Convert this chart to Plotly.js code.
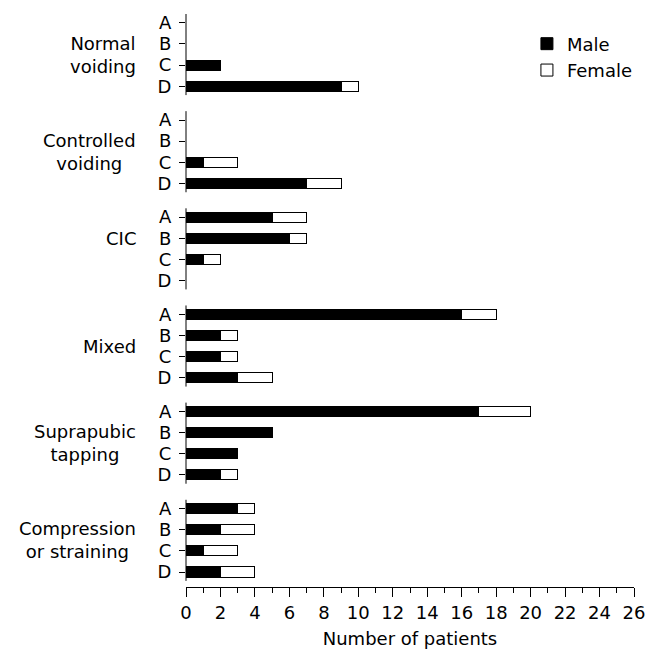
<!DOCTYPE html>
<html>
<head>
<meta charset="utf-8">
<script src="https://cdn.plot.ly/plotly-3.0.1.min.js"></script>
<style>html,body{margin:0;padding:0;background:#fff;}#chart{width:658px;height:652px;}</style>
</head>
<body>
<div id="chart"></div>
<script>
var groups = ["Normal<br>voiding", "Controlled<br>voiding", "CIC", "Mixed", "Suprapubic<br>tapping", "Compression<br>or straining"];
var subgroups = ["A", "B", "C", "D"];
var male = [
  [0, 0, 2, 9],
  [0, 0, 1, 7],
  [5, 6, 1, 0],
  [16, 2, 2, 3],
  [17, 5, 3, 2],
  [3, 2, 1, 2]
];
var female = [
  [0, 0, 0, 1],
  [0, 0, 2, 2],
  [2, 1, 1, 0],
  [2, 1, 1, 2],
  [3, 0, 0, 1],
  [1, 2, 2, 2]
];
var xTicks = [0, 2, 4, 6, 8, 10, 12, 14, 16, 18, 20, 22, 24, 26];

var PITCH = 4.6;
var FONT = "DejaVu Sans, Arial, sans-serif";
var pos = [], tickText = [], mx = [], fx = [];
groups.forEach(function (g, gi) {
  subgroups.forEach(function (s, si) {
    pos.push(gi * PITCH + si);
    tickText.push(s);
    mx.push(male[gi][si] || null);
    fx.push(female[gi][si] || null);
  });
});

var traces = [
  {type: "bar", orientation: "h", name: "Male", y: pos, x: mx, width: 0.48,
   marker: {color: "#000", line: {color: "#000", width: 1}}, hoverinfo: "x"},
  {type: "bar", orientation: "h", name: "Female", y: pos, x: fx, width: 0.48,
   marker: {color: "#fff", line: {color: "#000", width: 1}}, hoverinfo: "x"}
];

var shapes = [], annotations = [];
groups.forEach(function (g, gi) {
  var top = gi * PITCH;
  shapes.push({type: "line", xref: "paper", yref: "y", x0: 0, x1: 0,
    y0: top - 0.42, y1: top + 3 + 0.42, line: {color: "#000", width: 1}});
  annotations.push({xref: "paper", yref: "y", x: -0.107, y: top + (g === "CIC" ? 1.0 : 1.5),
    xanchor: "right", yanchor: "middle", align: "center", showarrow: false, text: g,
    font: {family: FONT, size: 18, color: "#000"}});
});

var layout = {
  width: 658, height: 652,
  margin: {l: 186, r: 24, t: 14, b: 65},
  paper_bgcolor: "#fff", plot_bgcolor: "#fff",
  barmode: "stack",
  font: {family: FONT, size: 18, color: "#000"},
  xaxis: {
    range: [0, 26], tickvals: xTicks, ticktext: xTicks.map(String),
    ticks: "outside", ticklen: 9, tickcolor: "#000", tickwidth: 1,
    minor: {dtick: 1, ticks: "outside", ticklen: 5, tickcolor: "#000", tickwidth: 1, showgrid: false},
    showline: true, linecolor: "#000", linewidth: 1,
    showgrid: false, zeroline: false,
    tickfont: {family: FONT, size: 18, color: "#000"},
    title: {text: "Number of patients", font: {family: FONT, size: 18, color: "#000"}, standoff: 10}
  },
  yaxis: {
    range: [5 * PITCH + 3 + 0.71, -0.42],
    tickvals: pos, ticktext: tickText,
    ticks: "outside", ticklen: 6, tickcolor: "#000", tickwidth: 1,
    ticklabelstandoff: 4,
    showline: false, showgrid: false, zeroline: false,
    tickfont: {family: FONT, size: 18, color: "#000"}
  },
  legend: {x: 0.761, y: 0.980, xanchor: "left", yanchor: "top",
    traceorder: "normal", font: {family: FONT, size: 18, color: "#000"},
    bgcolor: "rgba(0,0,0,0)", itemwidth: 30},
  shapes: shapes,
  annotations: annotations,
  showlegend: true
};

Plotly.newPlot("chart", traces, layout, {displayModeBar: false, staticPlot: true});
</script>
</body>
</html>
